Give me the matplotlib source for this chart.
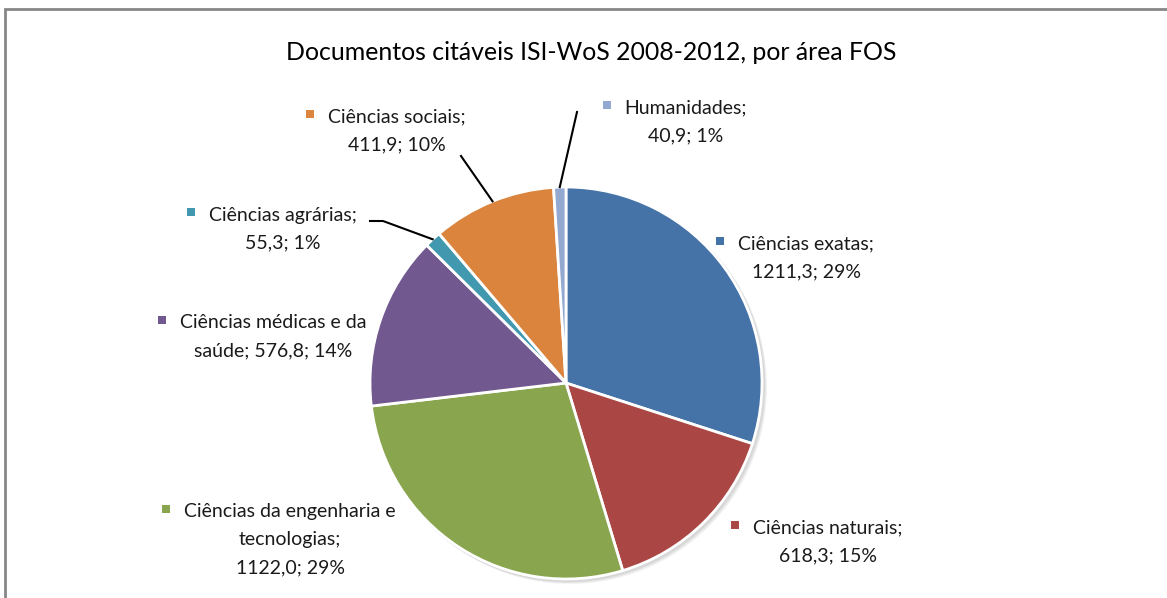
"""
Documentos citáveis ISI-WoS 2008-2012, por área FOS (pie chart)
"""
import numpy as np
import matplotlib
matplotlib.use("Agg")
import matplotlib.pyplot as plt
from matplotlib.patches import Rectangle, Circle

# data
areas = ["Ciências exatas", "Ciências naturais", "Ciências da engenharia e tecnologias",
         "Ciências médicas e da saúde", "Ciências agrárias", "Ciências sociais", "Humanidades"]
values = [1211.3, 618.3, 1122.0, 576.8, 55.3, 411.9, 40.9]
label_texts = ["Ciências exatas;\n1211,3; 29%",
               "Ciências naturais;\n618,3; 15%",
               "Ciências da engenharia e\ntecnologias;\n1122,0; 29%",
               "Ciências médicas e da\nsaúde; 576,8; 14%",
               "Ciências agrárias;\n55,3; 1%",
               "Ciências sociais;\n411,9; 10%",
               "Humanidades;\n40,9; 1%"]
colors = ["#4572A7", "#AA4643", "#89A54E", "#71588F", "#4198AF", "#DB843D", "#93A9CF"]
title = "Documentos citáveis ISI-WoS 2008-2012, por área FOS"

W, H = 1167, 598
fig = plt.figure(figsize=(W / 100, H / 100), dpi=100)
ax = fig.add_axes([0, 0, 1, 1])

# pixel layout (y measured from top, converted below)
cx, cy, r = 566, H - 383, 196
label_pos = [(806, 244), (828, 528), (290, 512), (273, 323), (283, 215), (397, 117), (686, 108)]
line_h = 28

# soft shadow behind the pie
for k, a in [(4, 0.10), (3, 0.12), (2, 0.15)]:
    ax.add_patch(Circle((cx + k, cy - k), r + 1, color="#888888", alpha=a, lw=0, zorder=1))

wedges, _ = ax.pie(values, colors=colors, startangle=90, counterclock=False,
                   center=(cx, cy), radius=r, frame=True,
                   wedgeprops=dict(edgecolor="white", linewidth=2))
for w in wedges:
    w.set_zorder(2)
ax.set_xlim(0, W)
ax.set_ylim(0, H)
ax.set_aspect("auto")
ax.axis("off")

font = dict(family=["Lato", "DejaVu Sans"], size=14, color="#1a1a1a")
first_lines = []
for (lx, ly), txt in zip(label_pos, label_texts):
    lines = txt.split("\n")
    for i, ln in enumerate(lines):
        t = ax.text(lx, H - ly - i * line_h, ln, ha="center", va="center", **font)
        if i == 0:
            first_lines.append(t)

tt = ax.text(591, H - 52, title, ha="center", va="center",
             family=["Lato", "DejaVu Sans"], size=20, color="black")

fig.canvas.draw()
ren = fig.canvas.get_renderer()
for t, c in zip(first_lines, colors):
    bb = t.get_window_extent(ren)
    ax.add_patch(Rectangle((bb.x0 - 22, t.get_position()[1] - 1), 8, 8, color=c, lw=0))

# fit title width to the original (narrow face there)
tw = tt.get_window_extent(ren).width
tt.set_fontsize(20 * 612 / tw)

# leader lines for the small slices
def edge_point(w):
    mid = np.deg2rad((w.theta1 + w.theta2) / 2)
    return cx + r * np.cos(mid), cy + r * np.sin(mid)

leaders = {5: [(461, 156)], 6: [(577, 112)], 4: [(370, 221), (383, 221)]}
for idx, pts in leaders.items():
    ex, ey = edge_point(wedges[idx])
    xs = [p[0] for p in pts] + [ex]
    ys = [H - p[1] for p in pts] + [ey]
    ax.plot(xs, ys, color="black", lw=1.5, zorder=3)

# chart border (right and bottom are cut off in the original)
ax.add_patch(Rectangle((4.5, -20), W + 40, H - 8.5 + 20, fill=False, edgecolor="#868686", lw=2, clip_on=False))

fig.savefig("out.png", dpi=100)
